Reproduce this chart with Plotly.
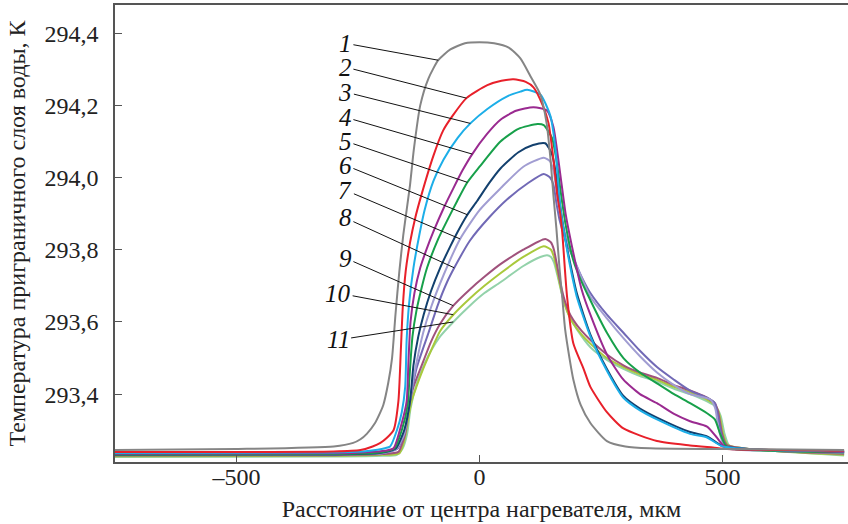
import numpy as np
import plotly.graph_objects as go

# ---- data (x in µm, T in K) ----
X1 = [-750,-500,-300,-260,-245,-232,-215,-204,-198,-188,-180,-173,-165,-157,-150,-143,-135,-122,-105,-85,-60,-30,0,30,60,84,105,125,138,146,152,158,165,170,176,185,193,208,228,262,300,350,500,750]
T1 = [293.245,293.248,293.255,293.265,293.275,293.29,293.32,293.35,293.37,293.43,293.5,293.62,293.74,293.84,293.91,293.98,294.08,294.2,294.275,294.325,294.355,294.372,294.375,294.372,294.36,294.33,294.28,294.23,294.15,294.05,293.95,293.86,293.74,293.67,293.58,293.5,293.44,293.37,293.32,293.27,293.255,293.25,293.248,293.245]

X2 = [-750,-300,-245,-220,-204,-190,-177,-167,-162,-158,-152,-143,-132,-120,-95,-75,-56,-27,16,45,70,95,111,130,142,152,160,166,170,180,193,214,228,262,296,365,433,480,510,750]
T2 = [293.24,293.241,293.245,293.255,293.265,293.28,293.30,293.38,293.52,293.64,293.74,293.82,293.89,293.95,294.06,294.13,294.17,294.22,294.256,294.268,294.272,294.265,294.25,294.2,294.15,294.05,293.95,293.9,293.85,293.67,293.54,293.47,293.42,293.35,293.305,293.27,293.258,293.252,293.248,293.243]

X3 = [-750,-300,-240,-210,-195,-184,-170,-160,-153,-150,-145,-136,-124,-113,-95,-74,-45,-19,16,57,84,98,125,146,156,166,180,190,200,228,262,296,330,365,433,468,500,600,750]
T3 = [293.237,293.238,293.241,293.246,293.25,293.255,293.3,293.35,293.42,293.55,293.65,293.75,293.84,293.91,293.99,294.05,294.11,294.15,294.19,294.225,294.238,294.243,294.23,294.17,294.08,293.92,293.8,293.73,293.67,293.56,293.465,293.39,293.355,293.33,293.29,293.28,293.255,293.245,293.242]

X4 = [-750,-300,-230,-195,-177,-160,-150,-146,-142,-134,-122,-108,-95,-74,-54,-35,-15,15,43,75,111,139,152,159,167,177,190,210,228,262,296,330,365,400,433,468,488,500,512,600,750]
T4 = [293.235,293.236,293.239,293.243,293.25,293.32,293.38,293.5,293.6,293.68,293.75,293.805,293.85,293.915,293.97,294.02,294.065,294.12,294.16,294.185,294.195,294.185,294.14,294.08,294.0,293.9,293.81,293.69,293.62,293.51,293.44,293.40,293.375,293.345,293.325,293.31,293.28,293.26,293.25,293.245,293.24]

X5 = [-750,-300,-220,-190,-175,-160,-148,-144,-138,-130,-120,-108,-85,-67,-46,-26,0,43,80,119,132,149,158,166,177,193,204,228,262,296,330,365,400,433,468,484,495,505,515,600,750]
T5 = [293.233,293.234,293.237,293.242,293.25,293.3,293.37,293.45,293.56,293.63,293.69,293.75,293.83,293.88,293.935,293.985,294.03,294.10,294.135,294.148,294.145,294.11,294.05,293.97,293.87,293.77,293.73,293.66,293.57,293.50,293.46,293.43,293.40,293.375,293.347,293.33,293.29,293.26,293.25,293.243,293.238]

X6 = [-750,-300,-210,-185,-172,-155,-143,-136,-126,-115,-100,-81,-60,-45,-26,-5,20,43,80,110,135,149,157,165,175,190,200,228,262,296,330,365,433,468,500,600,750]
T6 = [293.232,293.233,293.236,293.242,293.25,293.3,293.38,293.48,293.56,293.62,293.685,293.75,293.81,293.85,293.895,293.935,293.985,294.025,294.07,294.09,294.095,294.065,294.01,293.93,293.84,293.74,293.68,293.565,293.47,293.395,293.36,293.335,293.295,293.283,293.256,293.245,293.24]

X7 = [-750,-300,-200,-182,-170,-155,-147,-135,-116,-100,-74,-40,0,43,90,132,145,152,158,165,175,187,200,228,262,296,330,365,400,433,475,485,491,499,509,600,750]
T7 = [293.232,293.233,293.236,293.242,293.25,293.29,293.35,293.45,293.57,293.64,293.73,293.83,293.91,293.97,294.03,294.055,294.045,294.02,293.97,293.91,293.85,293.80,293.755,293.67,293.61,293.555,293.505,293.46,293.425,293.40,293.385,293.36,293.31,293.27,293.25,293.243,293.237]

X8 = [-750,-300,-200,-180,-168,-155,-146,-130,-105,-85,-67,-52,-20,20,57,100,132,145,152,158,165,175,190,210,228,262,296,330,365,400,433,468,484,491,499,509,600,750]
T8 = [293.232,293.233,293.236,293.242,293.25,293.29,293.36,293.47,293.57,293.65,293.71,293.75,293.825,293.89,293.94,293.985,294.01,294.0,293.98,293.93,293.88,293.835,293.785,293.725,293.68,293.62,293.57,293.52,293.475,293.44,293.41,293.39,293.375,293.336,293.28,293.253,293.245,293.24]

X9 = [-750,-300,-200,-167,-160,-153,-146,-136,-116,-100,-81,-54,-20,10,43,90,135,147,153,159,166,173,183,193,210,228,262,296,330,365,400,433,468,484,491,499,508,600,750]
T9 = [293.23,293.231,293.234,293.24,293.26,293.29,293.36,293.42,293.49,293.545,293.595,293.645,293.69,293.725,293.76,293.8,293.83,293.82,293.8,293.76,293.71,293.67,293.63,293.605,293.575,293.55,293.51,293.48,293.46,293.445,293.425,293.41,293.39,293.375,293.35,293.29,293.26,293.243,293.235]

X10 = [-750,-300,-200,-165,-155,-147,-140,-130,-116,-100,-81,-54,-20,10,43,90,132,147,153,159,166,173,183,193,210,228,262,296,330,365,400,433,468,484,493,501,510,600,750]
T10 = [293.228,293.229,293.232,293.236,293.27,293.33,293.38,293.42,293.47,293.52,293.575,293.62,293.665,293.70,293.735,293.78,293.81,293.80,293.78,293.745,293.70,293.66,293.62,293.595,293.565,293.54,293.50,293.475,293.455,293.44,293.42,293.405,293.385,293.37,293.345,293.29,293.26,293.243,293.232]

X11 = [-750,-300,-200,-170,-158,-149,-142,-129,-116,-100,-81,-54,-20,10,43,90,125,139,147,153,160,167,175,185,200,228,262,296,330,365,400,433,468,486,496,504,512,520,600,750]
T11 = [293.226,293.227,293.229,293.232,293.25,293.29,293.36,293.43,293.475,293.52,293.56,293.60,293.645,293.68,293.71,293.755,293.78,293.785,293.78,293.765,293.73,293.69,293.65,293.615,293.58,293.53,293.495,293.47,293.45,293.435,293.415,293.40,293.38,293.365,293.34,293.29,293.26,293.25,293.243,293.23]

curve_labels = ["1","2","3","4","5","6","7","8","9","10","11"]
colors = ["#858585","#E8202A","#1CAEE8","#9A2A90","#17A04A","#13406E",
          "#A19DD2","#7169B6","#A0527C","#A9C93C","#93D2AA"]
label_target_x = [-85,-27,-19,-15,-25,-25,-40,-52,-54,-54,-54]
label_pos_x = [-276,-276,-276,-276,-276,-276,-276,-276,-276,-291,-291]
label_pos_y = [294.372,294.306,294.237,294.167,294.101,294.034,293.965,293.888,293.777,293.680,293.550]

xs = [X1,X2,X3,X4,X5,X6,X7,X8,X9,X10,X11]
ts = [T1,T2,T3,T4,T5,T6,T7,T8,T9,T10,T11]

y_ticks = [293.4,293.6,293.8,294.0,294.2,294.4]
y_ticktext = ["293,4","293,6","293,8","294,0","294,2","294,4"]
x_ticks = [-500,0,500]
x_ticktext = ["\u2013500","0","500"]

FONT = "Liberation Serif"

fig = go.Figure()
order = list(range(10, -1, -1))
for i in order:
    fig.add_trace(go.Scatter(x=xs[i], y=ts[i], mode="lines",
                             line=dict(color=colors[i], width=2, shape="spline", smoothing=0.6),
                             name=curve_labels[i], showlegend=False, hoverinfo="skip"))

for i in range(11):
    tx = label_target_x[i]
    ty = float(np.interp(tx, xs[i], ts[i]))
    fig.add_annotation(x=tx, y=ty, ax=label_pos_x[i], ay=label_pos_y[i],
                       axref="x", ayref="y", xref="x", yref="y",
                       text="<i>" + curve_labels[i] + "</i>",
                       showarrow=True, arrowhead=0, arrowwidth=1, arrowcolor="#111",
                       standoff=0, startstandoff=0,
                       font=dict(family=FONT, size=25, color="#111"))

fig.update_layout(
    width=848, height=524,
    margin=dict(l=115, r=0, t=5, b=62),
    paper_bgcolor="white", plot_bgcolor="white",
    font=dict(family=FONT, size=24, color="#222"),
    xaxis=dict(range=[-750, 758], tickvals=x_ticks, ticktext=x_ticktext,
               ticks="inside", ticklen=7, tickcolor="#555", tickwidth=1.2,
               showline=True, linecolor="#555", linewidth=1.6, mirror=True,
               showgrid=False, zeroline=False, automargin=False,
               title=dict(text="Расстояние от центра нагревателя, мкм", font=dict(size=24), standoff=12),
               tickfont=dict(size=24), ticklabelstandoff=-8),
    yaxis=dict(range=[293.212, 294.478], tickvals=y_ticks, ticktext=y_ticktext,
               ticks="inside", ticklen=7, tickcolor="#555", tickwidth=1.2,
               showline=True, linecolor="#555", linewidth=1.6, mirror=False,
               showgrid=False, zeroline=False, automargin=False,
               title=dict(text="Температура приграничного слоя воды, К", font=dict(size=24), standoff=12),
               tickfont=dict(size=24), ticklabelstandoff=10),
)

fig.write_html("out.html", config={"displayModeBar": False},
               post_script="document.body.style.margin='0';")
